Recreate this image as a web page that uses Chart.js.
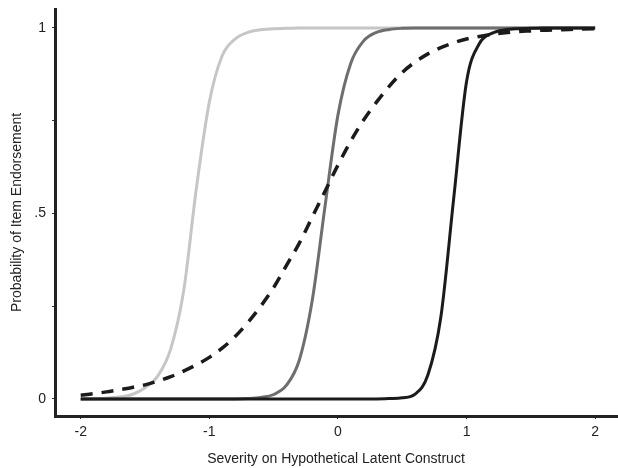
<!DOCTYPE html>
<html>
<head>
<meta charset="utf-8">
<script src="https://cdn.jsdelivr.net/npm/chart.js@4.4.1/dist/chart.umd.min.js"></script>
<style>
  html, body { margin: 0; padding: 0; background: #fff; }
  #wrap { width: 618px; height: 468px; }
</style>
</head>
<body>
<div id="wrap"><canvas id="chart" width="618" height="468"></canvas></div>
<script>
// latent severity (x axis)
const severity = [-2.0, -1.9, -1.8, -1.7, -1.6, -1.5, -1.4, -1.3, -1.2, -1.1,
  -1.0, -0.9, -0.8, -0.7, -0.6, -0.5, -0.4, -0.3, -0.2, -0.1,
  0.0, 0.1, 0.2, 0.3, 0.4, 0.5, 0.6, 0.7, 0.8, 0.9,
  1.0, 1.1, 1.2, 1.3, 1.4, 1.5, 1.6, 1.7, 1.8, 1.9, 2.0];

// probability of endorsement per item
const itemEasy = [0, 0.001, 0.002, 0.005, 0.012, 0.03, 0.062, 0.135, 0.29, 0.57,
  0.80, 0.925, 0.97, 0.988, 0.995, 0.998, 0.999, 1, 1, 1,
  1, 1, 1, 1, 1, 1, 1, 1, 1, 1,
  1, 1, 1, 1, 1, 1, 1, 1, 1, 1, 1];
const itemMid = [0, 0, 0, 0, 0, 0, 0, 0, 0, 0,
  0, 0, 0, 0.001, 0.004, 0.012, 0.037, 0.105, 0.265, 0.52,
  0.765, 0.905, 0.965, 0.988, 0.996, 0.999, 1, 1, 1, 1,
  1, 1, 1, 1, 1, 1, 1, 1, 1, 1, 1];
const itemHard = [0, 0, 0, 0, 0, 0, 0, 0, 0, 0,
  0, 0, 0, 0, 0, 0, 0, 0, 0, 0,
  0, 0, 0, 0, 0.001, 0.003, 0.013, 0.065, 0.22, 0.54,
  0.855, 0.958, 0.986, 0.995, 0.998, 0.999, 1, 1, 1, 1, 1];
const itemFlat = [0.01, 0.014, 0.019, 0.025, 0.031, 0.038, 0.048, 0.06, 0.075, 0.092,
  0.112, 0.137, 0.168, 0.206, 0.25, 0.30, 0.36, 0.42, 0.49, 0.56,
  0.63, 0.695, 0.752, 0.80, 0.843, 0.88, 0.908, 0.93, 0.947, 0.96,
  0.97, 0.977, 0.983, 0.987, 0.99, 0.992, 0.994, 0.995, 0.996, 0.997, 0.998];

const xTicks = [-2, -1, 0, 1, 2];
const yTicks = [0, 0.25, 0.5, 0.75, 1];
const yLabels = ['0', '', '.5', '', '1'];

function pts(vals) {
  return vals.map((v, i) => ({ x: severity[i], y: v }));
}

const font = { family: '"Liberation Sans", Arial, sans-serif', size: 14 };

const ctx = document.getElementById('chart').getContext('2d');
const chart = new Chart(ctx, {
  type: 'line',
  data: {
    datasets: [
      { label: 'Item 4', data: pts(itemFlat), borderColor: '#1c1a1b', borderWidth: 3.5, borderDash: [12, 9], order: 0 },
      { label: 'Item 3', data: pts(itemHard), borderColor: '#1c1a1b', borderWidth: 3, order: 1 },
      { label: 'Item 2', data: pts(itemMid), borderColor: '#6e6e6e', borderWidth: 3, order: 2 },
      { label: 'Item 1', data: pts(itemEasy), borderColor: '#c6c6c6', borderWidth: 3, order: 3 }
    ]
  },
  options: {
    responsive: false,
    animation: false,
    devicePixelRatio: 1,
    layout: { padding: { left: 0, right: 1, top: 9, bottom: 0 } },
    elements: {
      point: { radius: 0 },
      line: { cubicInterpolationMode: 'monotone', fill: false }
    },
    plugins: {
      legend: { display: false },
      tooltip: { enabled: false }
    },
    scales: {
      x: {
        type: 'linear',
        min: -2.2,
        max: 2.17,
        afterBuildTicks: s => { s.ticks = xTicks.map(v => ({ value: v })); },
        afterFit: s => { s.height = 52; s.paddingLeft = 0; s.paddingRight = 0; },
        grid: { drawOnChartArea: false, drawTicks: true, tickLength: 3, color: '#333' },
        border: { display: true, color: '#222', width: 3 },
        ticks: { color: '#222', font: font, padding: 5, maxRotation: 0 },
        title: { display: true, text: 'Severity on Hypothetical Latent Construct', color: '#222', font: font, padding: { top: 0, bottom: 0 } }
      },
      y: {
        type: 'linear',
        min: -0.046,
        max: 1.051,
        afterBuildTicks: s => { s.ticks = yTicks.map(v => ({ value: v })); },
        afterFit: s => { s.width = 55; s.paddingTop = 0; s.paddingBottom = 0; },
        grid: { drawOnChartArea: false, drawTicks: true, tickLength: 3, color: '#333' },
        border: { display: true, color: '#222', width: 3 },
        ticks: {
          color: '#222', font: font, padding: 6,
          callback: v => { const k = yTicks.indexOf(v); return k >= 0 ? yLabels[k] : ''; }
        },
        title: { display: true, text: 'Probability of Item Endorsement', color: '#222', font: font, padding: { top: 9, bottom: 0 } }
      }
    }
  }
});
</script>
</body>
</html>
